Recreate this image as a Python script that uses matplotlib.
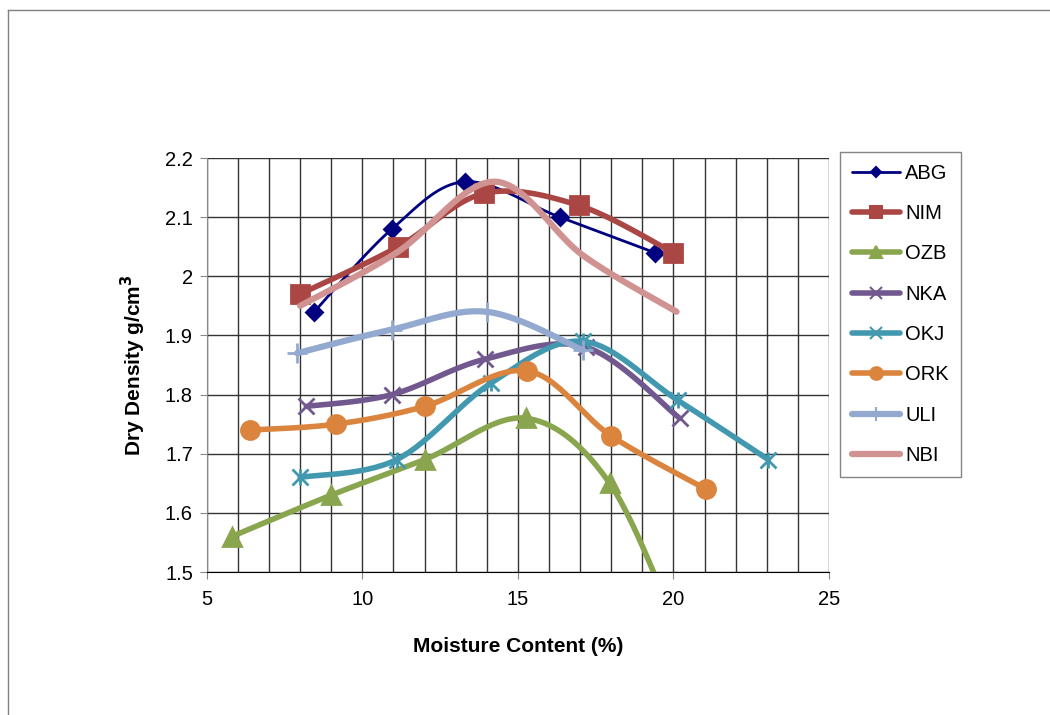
import matplotlib.pyplot as plt
import numpy as np
from matplotlib.lines import Line2D

plt.rcParams['font.family'] = ['Liberation Sans', 'DejaVu Sans']

# moisture content (%) and dry density (g/cm3) for each soil sample
abg_x = [8.45, 10.95, 13.3, 16.35, 19.4]
abg_y = [1.94, 2.08, 2.16, 2.10, 2.04]
nim_x = [8.0, 11.15, 13.9, 16.95, 20.0]
nim_y = [1.97, 2.05, 2.14, 2.12, 2.04]
ozb_x = [5.8, 9.0, 12.0, 15.25, 17.95, 20.3]
ozb_y = [1.56, 1.63, 1.69, 1.76, 1.65, 1.38]
nka_x = [8.2, 10.95, 13.95, 17.2, 20.2]
nka_y = [1.78, 1.80, 1.86, 1.88, 1.76]
okj_x = [8.0, 11.1, 14.15, 17.1, 20.15, 23.05]
okj_y = [1.66, 1.69, 1.82, 1.89, 1.79, 1.69]
ork_x = [6.4, 9.15, 12.0, 15.3, 18.0, 21.05]
ork_y = [1.74, 1.75, 1.78, 1.84, 1.73, 1.64]
uli_x = [7.9, 10.95, 14.0, 17.1]
uli_y = [1.87, 1.91, 1.94, 1.875]
nbi_x = [8.0, 11.1, 14.25, 17.1, 20.1]
nbi_y = [1.95, 2.04, 2.16, 2.035, 1.94]

names = ['ABG', 'NIM', 'OZB', 'NKA', 'OKJ', 'ORK', 'ULI', 'NBI']
xs = [abg_x, nim_x, ozb_x, nka_x, okj_x, ork_x, uli_x, nbi_x]
ys = [abg_y, nim_y, ozb_y, nka_y, okj_y, ork_y, uli_y, nbi_y]

colors = ['#000080', '#AA4643', '#89A54E', '#71588F', '#4198AF', '#DB843D', '#93A9CF', '#D19392']
markers = ['D', 's', '^', 'x', 'x', 'o', '+', 'None']
msizes = [8, 13, 13, 12, 12, 13, 14, 0]
lwidths = [2, 4, 4, 4, 4, 4, 4.5, 4.5]


def smooth(x, y, n=30):
    # Excel-style smoothed line: Catmull-Rom through the points in scaled space
    px = np.array(x) / 20.0
    py = np.array(y) / 0.7
    P = np.column_stack([px, py])
    P = np.vstack([P[0], P, P[-1]])
    out = []
    for i in range(1, len(P) - 2):
        p0, p1, p2, p3 = P[i - 1], P[i], P[i + 1], P[i + 2]
        t = np.linspace(0, 1, n)[:, None]
        seg = 0.5 * ((2 * p1) + (-p0 + p2) * t + (2 * p0 - 5 * p1 + 4 * p2 - p3) * t ** 2
                     + (-p0 + 3 * p1 - 3 * p2 + p3) * t ** 3)
        out.append(seg)
    out = np.vstack(out)
    return out[:, 0] * 20.0, out[:, 1] * 0.7


fig = plt.figure(figsize=(10.5, 7.15), dpi=100)
ax = fig.add_axes([0.197, 0.2, 0.5925, 0.579])

# outer chart frame
fig.add_artist(Line2D([0.0076, 0.0076], [0, 0.986], color='#808080', lw=1))
fig.add_artist(Line2D([0.0076, 1.0], [0.986, 0.986], color='#808080', lw=1))

ax.set_xlim(5, 25)
ax.set_ylim(1.5, 2.2)
ax.set_xticks([5, 10, 15, 20, 25])
ax.set_xticks(np.arange(5, 26, 1), minor=True)
ax.set_yticks(np.arange(1.5, 2.21, 0.1))
ax.set_yticklabels(['1.5', '1.6', '1.7', '1.8', '1.9', '2', '2.1', '2.2'])
ax.grid(True, which='both', color='#333333', lw=1)
ax.set_axisbelow(True)
for s in ['top', 'right']:
    ax.spines[s].set_visible(False)
ax.spines['left'].set_color('#888888')
ax.spines['bottom'].set_color('black')
ax.tick_params(axis='both', which='major', direction='out', length=5, color='#888888',
               labelsize=14.5)
ax.tick_params(axis='x', which='major', pad=8)
ax.tick_params(axis='y', which='major', pad=5)
ax.tick_params(axis='x', which='minor', length=0)

handles = []
for name, x, y, c, m, ms, lw in zip(names, xs, ys, colors, markers, msizes, lwidths):
    sx, sy = smooth(x, y)
    ax.plot(sx, sy, color=c, lw=lw, solid_capstyle='round', clip_on=True)
    if m == 'x' and name == 'OKJ':
        ax.plot(x, y, ls='None', marker='x', ms=ms, mew=2, color=c)
        ax.plot(x, y, ls='None', marker='|', ms=ms, mew=2, color=c)
    elif m != 'None':
        ax.plot(x, y, ls='None', marker=m, ms=ms, color=c, mew=2)
    hm = m if m != 'None' else None
    handles.append(Line2D([], [], color=c, lw=lw, marker=hm, ms=ms * 0.7,
                          solid_capstyle='round', mew=1.5))

ax.set_xlabel('Moisture Content (%)', fontsize=15, fontweight='bold', labelpad=20)
ax.set_ylabel('Dry Density g/cm$^\\mathbf{3}$', fontsize=15, fontweight='bold', labelpad=12)

leg = fig.legend(handles, names, loc='upper left', bbox_to_anchor=(0.8, 0.788),
                 fontsize=14.5, frameon=True, fancybox=False, edgecolor='#666666',
                 handlelength=2.4, handletextpad=0.25, labelspacing=1.06,
                 borderpad=0.6, borderaxespad=0)
leg.get_frame().set_linewidth(1)

fig.savefig('out.png', dpi=100)
